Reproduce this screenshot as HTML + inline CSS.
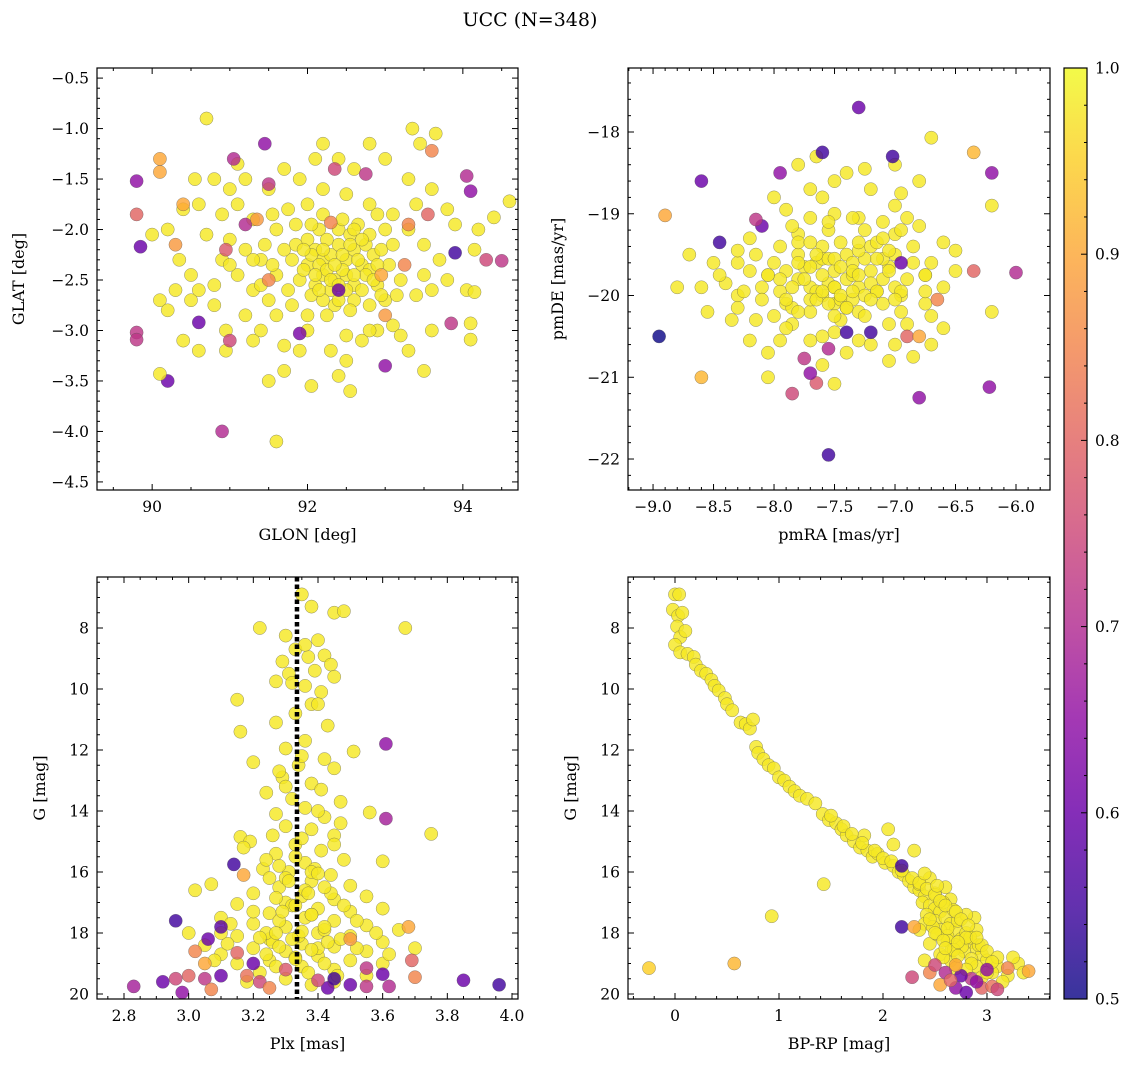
<!DOCTYPE html>
<html><head><meta charset="utf-8">
<style>
html,body{margin:0;padding:0;background:#fff;}
svg{display:block;font-family:"DejaVu Serif","Liberation Serif",serif;}
</style></head>
<body>
<svg id="fig" width="1136" height="1067" viewBox="0 0 1136 1067" xmlns="http://www.w3.org/2000/svg">
<defs>
<linearGradient id="plasma" x1="0" y1="1" x2="0" y2="0">
<stop offset="0" stop-color="#0d0887"/><stop offset="0.1" stop-color="#41049d"/><stop offset="0.2" stop-color="#6a00a8"/><stop offset="0.3" stop-color="#8f0da4"/><stop offset="0.4" stop-color="#b12a90"/><stop offset="0.5" stop-color="#cc4778"/><stop offset="0.6" stop-color="#e16462"/><stop offset="0.7" stop-color="#f2844b"/><stop offset="0.8" stop-color="#fca636"/><stop offset="0.9" stop-color="#fcce25"/><stop offset="1" stop-color="#f0f921"/>
</linearGradient>
</defs>
<text x="530" y="26" font-size="19" text-anchor="middle">UCC (N=348)</text>
</svg>
<script>
// shared membership probability for high-probability (yellow) members
const coreProb = [0.98];

// ---- Panel 1: GLON vs GLAT ----
const tlCoreGlon = [92.0,92.1,92.2,92.3,92.4,92.5,92.6,92.7,92.2,92.35,92.5,92.1,92.3,92.6,92.8,92.4,92.15,92.55,92.0,91.9,92.75,92.85,92.45,92.25,92.05,92.6,92.35,92.9,91.8,91.85,92.65,
90.0,90.2,90.4,90.35,90.5,90.3,90.5,90.1,90.2,90.6,90.8,90.9,91.0,90.9,91.0,91.2,91.1,91.3,91.2,91.4,91.1,91.3,91.5,91.2,91.4,90.95,90.95,91.5,91.7,92.05,92.3,92.5,92.55,92.4,92.7,92.9,93.1,93.3,93.0,93.2,93.4,93.6,93.7,93.5,93.3,93.1,93.4,93.6,93.3,93.0,93.35,93.45,93.65,92.8,92.6,92.4,92.2,92.1,91.9,91.7,91.5,91.75,92.0,92.2,92.5,92.8,93.0,92.9,91.6,91.6,91.8,91.6,91.9,92.8,93.2,93.9,94.2,93.8,94.15,90.7,90.6,90.55,90.8,91.1,90.4,90.6,91.7,93.6,93.5,91.3,92.0];
const tlCoreGlat = [-2.1,-2.2,-2.3,-2.25,-2.15,-2.3,-2.2,-2.35,-2.45,-2.5,-2.45,-2.55,-2.6,-2.55,-2.4,-2.0,-2.0,-2.05,-2.35,-2.5,-2.15,-2.25,-2.4,-2.1,-2.65,-2.7,-2.75,-2.55,-2.3,-2.15,-1.95,
-2.05,-2.0,-1.8,-2.3,-2.45,-2.6,-2.7,-2.7,-2.8,-2.6,-2.55,-2.3,-2.1,-1.85,-1.6,-1.5,-1.75,-1.9,-2.2,-2.3,-2.45,-2.6,-2.7,-2.85,-3.0,-3.0,-3.2,-3.5,-3.4,-3.55,-3.2,-3.3,-3.6,-3.45,-3.1,-3.0,-2.95,-3.2,-2.7,-2.5,-2.65,-2.6,-2.3,-2.15,-2.0,-1.85,-1.75,-1.6,-1.5,-1.3,-1.0,-1.15,-1.05,-1.15,-1.4,-1.3,-1.15,-1.3,-1.5,-1.4,-1.6,-1.8,-1.75,-1.6,-1.65,-1.75,-2.0,-1.85,-2.0,-2.45,-2.75,-2.85,-3.2,-3.0,-3.05,-1.95,-2.0,-2.5,-2.2,-2.05,-1.75,-1.5,-1.5,-1.35,-3.1,-3.2,-3.15,-3.0,-3.4,-2.3,-2.85];
const tlExtraGlon = [92.05,92.15,92.25,92.35,92.45,92.55,92.65,92.75,92.85,92.7,92.5,92.4,92.2,92.1,91.95,91.95,92.05,92.2,92.45,92.6,92.8,92.95,93.05,92.95,92.8,92.55,92.25,91.75,91.7,91.55,91.45,92.9,92.15,92.6,92.3,92.4,92.2,92.7,91.85,93.1,91.4,92.0,92.5,93.15,93.5,91.0,90.8,91.3,93.8,91.55];
const tlExtraGlat = [-2.25,-2.35,-2.4,-2.35,-2.25,-2.15,-2.3,-2.45,-2.5,-2.6,-2.6,-2.7,-2.7,-2.45,-2.4,-2.2,-1.95,-1.85,-1.9,-2.0,-2.05,-2.2,-2.35,-2.65,-2.75,-2.8,-2.85,-2.6,-2.2,-2.35,-2.15,-2.35,-2.6,-2.45,-2.5,-2.55,-2.2,-2.1,-1.95,-2.15,-2.55,-3.0,-3.05,-2.65,-2.45,-2.35,-2.75,-3.1,-1.8,-1.85];
const tlOutGlon = [92.3,90.4,90.3,91.5,93.25,93.0,92.95,92.4,92.75,91.5,91.2,90.95,93.3,93.55,92.35,91.35,
89.8,89.8,89.85,89.8,89.8,90.2,90.9,91.6,90.1,90.7,91.05,91.45,91.9,93.0,93.6,94.05,94.1,93.9,94.3,94.5,93.85,94.6,94.4,94.1,94.1,94.05,94.15,90.6,91.0,90.1,90.1];
const tlOutGlat = [-1.93,-1.75,-2.15,-2.5,-2.35,-2.85,-2.45,-2.6,-1.45,-1.55,-1.95,-2.2,-1.95,-1.85,-1.4,-1.9,
-1.52,-1.85,-2.17,-3.02,-3.09,-3.5,-4.0,-4.1,-3.43,-0.9,-1.3,-1.15,-3.03,-3.35,-1.22,-1.47,-1.62,-2.23,-2.3,-2.31,-2.93,-1.72,-1.88,-3.09,-2.93,-2.6,-2.62,-2.92,-3.1,-1.3,-1.43];
const tlOutProb = [0.85,0.9,0.88,0.85,0.85,0.88,0.9,0.6,0.72,0.72,0.7,0.78,0.85,0.8,0.75,0.88,
0.65,0.8,0.6,0.72,0.72,0.6,0.7,0.98,0.98,0.98,0.7,0.65,0.62,0.65,0.85,0.7,0.65,0.55,0.75,0.72,0.72,0.98,0.98,0.98,0.98,0.98,0.98,0.6,0.75,0.9,0.9];

// ---- Panel 2: pmRA vs pmDE ----
const trCorePmra = [-8.0,-7.9,-7.8,-7.7,-7.6,-7.5,-7.4,-7.3,-7.2,-7.1,-7.0,-6.9,-7.8,-7.6,-7.4,-7.2,-7.0,-7.7,-7.5,-7.3,-7.1,-6.95,-7.9,-8.1,-8.2,-7.65,-7.45,-7.25,-7.55,-7.8,-7.0,-6.85,-7.35,-7.55,-7.25,-7.85,-7.45,-7.05,-8.3,-8.3,-8.4,-7.7,-7.5,-7.3,-7.1,-7.9,-7.6,-7.4,-7.2,-7.0,-6.8,-6.7,-6.6,-6.5,-6.8,-7.0,-7.8,-7.5,-7.65,-8.0,-8.2,-8.5,-8.6,-8.35,-8.2,-8.05,-7.9,-7.6,-7.3,-7.0,-7.05,-6.85,-7.4,-7.6,-6.6,-6.7,-6.9,-7.25,-7.65,-7.95,
-7.75,-7.35,-7.15,-7.45,-7.6,-7.85,-7.05,-7.3,-7.5,-7.7,-7.15,-6.95,-8.05,-7.4,-7.2,-7.55,-7.8,-7.35,-7.1,-6.75];
const trCorePmde = [-19.6,-19.7,-19.8,-19.9,-20.0,-19.7,-19.8,-19.9,-19.7,-19.8,-19.9,-19.8,-19.5,-19.4,-19.5,-19.4,-19.5,-20.2,-20.1,-20.2,-20.1,-20.2,-20.1,-19.9,-19.7,-19.6,-19.35,-19.2,-19.2,-19.25,-19.25,-19.4,-19.6,-19.85,-20.0,-20.35,-20.3,-20.35,-20.0,-19.6,-19.85,-19.05,-19.0,-19.05,-19.1,-18.95,-18.8,-18.5,-18.7,-18.9,-19.15,-19.6,-19.35,-19.45,-18.6,-18.4,-18.4,-18.6,-18.3,-18.8,-19.3,-19.6,-19.9,-20.3,-20.55,-20.7,-20.4,-20.5,-20.55,-20.6,-20.8,-20.75,-20.7,-20.85,-20.4,-20.25,-19.05,-19.55,-19.95,-19.95,
-19.65,-19.75,-19.95,-20.05,-19.55,-20.15,-19.65,-19.45,-19.9,-20.05,-19.35,-20.0,-19.75,-20.15,-19.85,-19.55,-19.35,-20.05,-19.55,-19.75];
const trExtraPmra = [-7.5,-7.6,-7.7,-7.35,-7.45,-7.55,-7.65,-7.75,-7.85,-7.95,-8.05,-7.15,-7.05,-6.95,-7.25,-7.4,-7.8,-8.0,-8.1,-8.15,-7.95,-7.7,-7.5,-7.3,-7.15,-6.85,-6.75,-6.75,-6.9,-7.2,-7.5,-7.7,-8.15,-8.25,-7.35,-7.55,-7.85,-7.1,-6.95,-7.45,-7.3,-7.6,-7.9,-7.2,-7.0,-7.65,-7.35,-7.05,-7.8,-7.5,-6.6,-6.5,-8.45,-8.3,-6.95,-7.25,-7.7,-8.3,-6.7,-7.95];
const trExtraPmde = [-19.9,-19.75,-19.65,-19.7,-20.0,-20.1,-20.05,-19.8,-19.9,-19.8,-19.75,-19.95,-19.7,-19.95,-20.25,-20.15,-20.2,-20.25,-20.05,-19.5,-19.4,-19.35,-19.55,-19.35,-19.55,-19.6,-19.75,-20.1,-20.35,-20.6,-20.45,-20.55,-20.3,-19.95,-19.05,-19.1,-19.15,-19.3,-19.2,-19.65,-19.75,-19.95,-20.05,-20.05,-20.05,-19.5,-19.95,-19.45,-19.6,-20.25,-19.9,-19.7,-19.75,-20.15,-18.75,-18.45,-18.7,-19.45,-20.6,-20.55];
const trOutPmra = [-8.95,-7.3,-7.55,-8.6,-8.45,-6.2,-6.0,-6.22,-6.8,-7.02,-7.6,-7.95,-8.1,-8.15,-7.85,-7.65,-7.75,-7.7,-7.55,-8.9,-8.6,-6.35,-6.7,-6.2,-6.2,-8.8,-8.05,-7.5,-8.55,-8.7,-6.9,-6.8,-6.65,-6.35,-6.75,-7.2,-7.4,-6.95];
const trOutPmde = [-20.5,-17.7,-21.95,-18.6,-19.35,-18.5,-19.72,-21.12,-21.25,-18.3,-18.25,-18.5,-19.15,-19.07,-21.2,-21.07,-20.77,-20.95,-20.65,-19.02,-21.0,-18.25,-18.07,-18.9,-20.2,-19.9,-21.0,-21.08,-20.2,-19.5,-20.5,-20.5,-20.05,-19.7,-19.95,-20.45,-20.45,-19.6];
const trOutProb = [0.5,0.6,0.55,0.6,0.55,0.65,0.7,0.65,0.65,0.55,0.55,0.65,0.6,0.72,0.75,0.78,0.72,0.65,0.7,0.9,0.92,0.92,0.98,0.98,0.98,0.98,0.98,0.98,0.98,0.98,0.8,0.9,0.85,0.8,0.98,0.55,0.55,0.6];

// ---- Panel 3: Plx vs G ----
const blCorePlx = [3.35,3.38,3.45,3.48,3.22,3.67,3.3,3.4,3.33,3.37,3.42,3.29,3.44,3.39,3.31,3.45,3.27,3.36,3.41,3.15,3.38,3.33,3.27,3.43,3.16,3.36,3.3,3.51,3.42,3.2,3.34,3.45,3.29,3.38,3.24,3.41,3.32,3.47,3.36,3.27,3.42,3.56,3.75,3.3,3.38,3.16,3.45,3.19,3.33,3.41,3.27,3.17,3.6,3.36,3.48,3.23,3.31,3.44,3.07,3.38,3.28,3.5,3.02,3.2,3.35,3.45,3.55,3.3,3.15,3.4,3.25,3.5,3.6,3.36,3.1,3.45,3.2,3.3,3.55,3.65,3.0,3.4,3.15,3.5,3.25,3.35,3.6,3.05,3.45,3.2,3.3,3.55,3.7,3.1,3.4,3.25,3.5,3.35,3.6,3.15,3.45,3.22,3.3,3.55,3.38,
3.32,3.38,3.28,3.42,3.34,3.4,3.26,3.36,3.44,3.3,3.39,3.33,3.47,3.24];
const blCoreG = [6.9,7.3,7.5,7.45,8.0,8.0,8.25,8.4,8.7,8.95,8.9,9.1,9.2,9.4,9.5,9.6,9.75,9.9,10.1,10.35,10.5,10.8,11.1,11.2,11.4,11.7,11.95,12.05,12.3,12.4,12.5,12.6,12.9,13.1,13.4,13.3,13.6,13.7,13.9,14.1,14.2,14.05,14.75,14.5,14.6,14.85,14.8,15.0,15.1,15.3,15.4,15.2,15.65,15.7,15.6,15.9,16.0,16.1,16.4,16.3,16.5,16.45,16.6,16.7,16.8,16.9,16.8,17.0,17.05,17.2,17.35,17.3,17.2,17.5,17.5,17.6,17.7,17.8,17.75,17.9,18.0,18.0,18.1,18.1,18.2,18.35,18.3,18.4,18.45,18.5,18.6,18.6,18.5,18.7,18.75,18.9,18.9,19.1,19.0,19.0,19.2,19.3,19.5,19.4,19.7,
17.1,17.4,17.6,17.9,18.1,18.5,18.3,16.6,16.7,16.2,15.9,18.8,18.2,18.0];
const blExtraPlx = [3.33,3.28,3.38,3.31,3.25,3.42,3.37,3.27,3.33,3.29,3.38,3.42,3.35,3.27,3.22,3.32,3.43,3.38,3.28,3.24,3.33,3.42,3.27,3.37,3.45,3.18,3.12,3.1,3.48,3.52,3.58,3.62,3.35,3.3,3.4,3.35,3.24,3.45,3.52,3.46,3.2,3.13,3.08,3.4,3.47,3.26,3.4,3.28,3.36,3.32];
const blExtraG = [15.5,15.8,16.0,16.3,16.2,16.5,16.7,16.85,17.1,17.3,17.4,17.8,17.95,18.0,18.15,18.2,18.3,18.55,18.45,18.7,18.85,19.0,19.1,19.3,19.6,19.6,18.35,18.0,17.1,17.6,18.0,18.7,12.2,13.2,14.0,14.9,15.6,15.1,18.5,19.4,17.3,17.7,18.9,16.05,14.4,14.8,10.5,12.7,8.55,9.8];
const blOutPlx = [3.61,3.61,3.14,2.96,3.1,3.68,3.17,2.83,2.92,2.96,2.98,3.0,3.05,3.07,3.1,3.18,3.22,3.2,3.25,3.3,3.43,3.45,3.5,3.55,3.6,3.62,3.7,3.69,3.85,3.96,3.02,3.06,3.5,3.55,3.4,3.15,3.05];
const blOutG = [11.8,14.25,15.75,17.6,17.8,17.8,16.1,19.75,19.6,19.5,19.95,19.4,19.5,19.85,19.4,19.4,19.6,19.0,19.8,19.2,19.8,19.5,19.7,19.15,19.35,19.75,19.45,18.9,19.55,19.7,18.6,18.2,18.2,19.75,19.55,18.65,19.0];
const blOutProb = [0.65,0.68,0.55,0.55,0.58,0.9,0.9,0.68,0.6,0.75,0.65,0.8,0.72,0.85,0.6,0.82,0.75,0.6,0.85,0.78,0.6,0.55,0.6,0.72,0.6,0.7,0.85,0.8,0.6,0.55,0.85,0.6,0.88,0.72,0.75,0.8,0.9];
const plxRef = [3.335];

// ---- Panel 4: BP-RP vs G ----
const brCoreColor = [0.0,0.04,-0.02,0.03,0.07,0.02,0.05,0.0,0.05,0.12,0.18,0.2,0.25,0.3,0.35,0.38,0.42,0.48,0.5,0.63,0.68,0.72,0.75,0.78,0.8,0.85,0.9,0.95,1.0,1.05,1.1,1.15,1.2,1.27,1.35,1.42,1.48,1.55,1.6,1.65,1.72,1.78,1.85,1.9,1.95,2.02,2.1,2.15,2.2,2.25,2.3,2.35,2.4,2.38,2.45,2.5,2.42,2.55,2.5,2.6,2.65,2.55,2.7,2.62,2.75,2.8,2.85,2.7,2.9,2.78,2.95,2.85,3.0,3.1,2.9,3.05,3.2,3.15,3.3,3.25,2.95,2.88,2.9,2.6,2.65,2.45,2.3,2.05,2.1,1.82,2.4,2.45,2.55,2.4,2.65,
2.35,2.5,2.58,2.68,2.72,2.8,2.48,2.62,2.76,2.52,2.66,2.84,2.58,2.92,2.7];
const brCoreG = [6.9,6.9,7.4,7.6,7.5,7.95,8.3,8.55,8.8,8.85,8.95,9.2,9.4,9.5,9.7,9.9,10.05,10.3,10.5,11.1,11.15,11.3,11.0,11.9,12.1,12.3,12.5,12.6,12.9,13.0,13.2,13.35,13.5,13.6,13.75,14.1,14.3,14.4,14.6,14.8,15.0,15.2,15.3,15.5,15.4,15.7,15.8,16.0,16.1,16.3,16.5,16.6,16.8,17.0,17.1,17.2,17.4,17.3,17.6,17.5,17.7,17.9,17.9,18.1,18.2,18.0,18.3,18.4,18.5,18.6,18.7,18.85,18.9,19.1,19.1,19.3,19.4,19.6,19.0,18.8,19.45,17.5,17.9,16.5,16.9,16.2,15.3,14.6,15.1,14.8,17.7,18.35,18.7,18.9,18.9,
16.4,16.7,17.0,17.25,17.6,17.4,17.8,18.25,18.45,18.05,18.55,18.15,18.8,18.4,19.15];
const brExtraColor = [1.5,1.62,1.7,1.8,1.92,2.0,2.08,2.18,2.28,2.35,2.42,2.5,2.55,2.6,2.7,2.75,2.82,2.8,2.95,3.0,3.1,2.5,2.58,2.68,2.72,2.85,3.0,2.8,2.6,2.35,2.45,2.62,2.72,2.9,3.05,3.35,2.52,2.4,0.55,0.1];
const brExtraG = [14.15,14.5,14.75,15.05,15.3,15.55,15.65,15.95,16.2,16.35,16.55,16.75,16.95,17.1,17.3,17.55,17.75,18.15,18.4,18.6,18.8,18.0,18.25,18.55,18.75,19.0,19.3,19.2,18.5,17.9,17.55,17.85,18.3,18.15,18.95,19.3,16.45,16.05,10.7,8.1];
const brOutColor = [-0.25,0.57,0.93,1.43,2.18,2.18,2.28,2.3,3.4,2.55,2.6,2.7,2.8,2.85,2.95,3.05,2.75,2.65,2.45,2.5,2.9,3.1,3.2,2.7,3.0];
const brOutG = [19.15,19.0,17.45,16.4,15.8,17.8,19.45,17.8,19.25,19.7,19.3,19.8,19.95,19.5,19.8,19.75,19.4,19.55,19.3,19.05,19.6,19.85,19.15,19.05,19.2];
const brOutProb = [0.95,0.92,0.98,0.98,0.55,0.55,0.75,0.9,0.9,0.9,0.7,0.65,0.6,0.72,0.8,0.82,0.6,0.8,0.85,0.75,0.65,0.75,0.85,0.9,0.65];

const cbarTicks = [0.5,0.6,0.7,0.8,0.9,1.0];

const NS = "http://www.w3.org/2000/svg";
const svg = document.getElementById('fig');
const stops = [[13,8,135],[65,4,157],[106,0,168],[143,13,164],[177,42,144],[204,71,120],[225,100,98],[242,132,75],[252,166,54],[252,206,37],[240,249,33]];
function plasma(p){
  if (typeof p !== 'number' || isNaN(p)) p = 1;
  let t = Math.max(0, Math.min(1, (p-0.5)/0.5)) * 10;
  const i = Math.min(9, Math.floor(t)); const f = t - i;
  const a = stops[i], b = stops[i+1];
  return 'rgb(' + [0,1,2].map(k => Math.round(a[k] + (b[k]-a[k])*f)).join(',') + ')';
}
function mk(tag, attrs, parent){
  const e = document.createElementNS(NS, tag);
  for (const k in attrs) e.setAttribute(k, attrs[k]);
  (parent || svg).appendChild(e);
  return e;
}
function fmt(v, dec){ const s = v.toFixed(dec); return s.replace('-', '\u2212'); }

function panel(o){
  const g = mk('g', {});
  
  
  const X = v => o.L + (v - o.x0) / (o.x1 - o.x0) * (o.R - o.L);
  const Y = v => o.T + (v - o.y0) / (o.y1 - o.y0) * (o.B - o.T);
  const cp = 'clip-' + o.name;
  const cl = mk('clipPath', {id: cp}, g);
  mk('rect', {x:o.L, y:o.T, width:o.R-o.L, height:o.B-o.T}, cl);
  const pts = mk('g', {'clip-path':'url(#'+cp+')'}, g);
  
  
  const groups = [[o.cx, o.cy, null], [o.ox, o.oy, o.op]];
  groups.forEach(gr => {
    const n = Math.min(gr[0].length, gr[1].length);
    for (let i = 0; i < n; i++){
      const p = gr[2] ? gr[2][i] : coreProb[0];
      const c = mk('circle', {cx:X(gr[0][i]).toFixed(1), cy:Y(gr[1][i]).toFixed(1), r:6.6, fill:plasma(p), 'fill-opacity':0.82, stroke:'#555', 'stroke-width':0.45, 'stroke-opacity':0.7}, pts);
      
      
    }
  });
  if (o.vline){
    const l = mk('line', {x1:X(o.vline[0]), x2:X(o.vline[0]), y1:o.T, y2:o.B, stroke:'#000', 'stroke-width':4.5, 'stroke-dasharray':'4.5,3'}, g);
    
    
  }
  const frame = mk('rect', {x:o.L, y:o.T, width:o.R-o.L, height:o.B-o.T, fill:'none', stroke:'#000', 'stroke-width':1.2}, g);
  
  
  const tk = mk('g', {stroke:'#000', 'stroke-width':1}, g);
  const xl = Math.min(o.x0,o.x1), xh = Math.max(o.x0,o.x1);
  const yl = Math.min(o.y0,o.y1), yh = Math.max(o.y0,o.y1);
  const xs0 = Math.ceil(xl/o.xmin - 1e-6), xs1 = Math.floor(xh/o.xmin + 1e-6);
  for (let k = xs0; k <= xs1; k++){
    const v = k * o.xmin;
    const px = X(v);
    const major = Math.abs(v/o.xmaj - Math.round(v/o.xmaj)) < 1e-6;
    const len = major ? 6 : 3;
    mk('line', {x1:px, x2:px, y1:o.B, y2:o.B-len}, tk);
    mk('line', {x1:px, x2:px, y1:o.T, y2:o.T+len}, tk);
    if (major){
      const t = mk('text', {x:px, y:o.B+22, 'font-size':15.5, 'text-anchor':'middle'}, g);
      t.textContent = fmt(v, o.xdec);
      
      
    }
  }
  const ys0 = Math.ceil(yl/o.ymin - 1e-6), ys1 = Math.floor(yh/o.ymin + 1e-6);
  for (let k = ys0; k <= ys1; k++){
    const v = k * o.ymin;
    const py = Y(v);
    const major = Math.abs(v/o.ymaj - Math.round(v/o.ymaj)) < 1e-6;
    const len = major ? 6 : 3;
    mk('line', {x1:o.L, x2:o.L+len, y1:py, y2:py}, tk);
    mk('line', {x1:o.R, x2:o.R-len, y1:py, y2:py}, tk);
    if (major){
      const t = mk('text', {x:o.L-8, y:py+5.5, 'font-size':15.5, 'text-anchor':'end'}, g);
      t.textContent = fmt(v, o.ydec);
      
      
    }
  }
  const xt = mk('text', {x:(o.L+o.R)/2, y:o.B+50, 'font-size':16, 'text-anchor':'middle'}, g);
  xt.textContent = o.xlabel;
  
  
  const yt = mk('text', {x:0, y:0, 'font-size':16, 'text-anchor':'middle', transform:'translate('+o.ylx+','+((o.T+o.B)/2)+') rotate(-90)'}, g);
  yt.textContent = o.ylabel;
  
  
}

panel({name:'glon-glat-panel', L:97, R:518, T:68, B:490, x0:89.29, x1:94.71, y0:-0.40, y1:-4.58,
  xmaj:2, xmin:0.5, ymaj:0.5, ymin:0.1, xdec:0, ydec:1,
  cx:tlCoreGlon.concat(tlExtraGlon), cy:tlCoreGlat.concat(tlExtraGlat), ox:tlOutGlon, oy:tlOutGlat, op:tlOutProb,
  xlabel:'GLON [deg]', ylabel:'GLAT [deg]', ylx:24});
panel({name:'pm-panel', L:628, R:1050, T:68, B:490, x0:-9.207, x1:-5.719, y0:-17.217, y1:-22.379,
  xmaj:0.5, xmin:0.1, ymaj:1, ymin:0.2, xdec:1, ydec:0,
  cx:trCorePmra.concat(trExtraPmra), cy:trCorePmde.concat(trExtraPmde), ox:trOutPmra, oy:trOutPmde, op:trOutProb,
  xlabel:'pmRA [mas/yr]', ylabel:'pmDE [mas/yr]', ylx:563});
panel({name:'plx-g-panel', L:97, R:518, T:577, B:999, x0:2.7165, x1:4.0186, y0:6.328, y1:20.164,
  xmaj:0.2, xmin:0.05, ymaj:2, ymin:0.5, xdec:1, ydec:0,
  cx:blCorePlx.concat(blExtraPlx), cy:blCoreG.concat(blExtraG), ox:blOutPlx, oy:blOutG, op:blOutProb, vline:plxRef,
  xlabel:'Plx [mas]', ylabel:'G [mag]', ylx:45});
panel({name:'cmd-panel', L:628, R:1050, T:577, B:999, x0:-0.452, x1:3.606, y0:6.328, y1:20.164,
  xmaj:1, xmin:0.2, ymaj:2, ymin:0.5, xdec:0, ydec:0,
  cx:brCoreColor.concat(brExtraColor), cy:brCoreG.concat(brExtraG), ox:brOutColor, oy:brOutG, op:brOutProb,
  xlabel:'BP-RP [mag]', ylabel:'G [mag]', ylx:576});

// colorbar
const cb = mk('g', {});


const cbL = 1064, cbR = 1087, cbT = 68, cbB = 999;
mk('rect', {x:cbL, y:cbT, width:cbR-cbL, height:cbB-cbT, fill:'url(#plasma)', 'fill-opacity':0.82}, cb);
mk('rect', {x:cbL, y:cbT, width:cbR-cbL, height:cbB-cbT, fill:'none', stroke:'#000', 'stroke-width':1.2}, cb);
const CY = v => cbB - (v - 0.5) / 0.5 * (cbB - cbT);
for (let k = 25; k <= 50; k++){
  const v = k * 0.02;
  const major = k % 5 === 0;
  mk('line', {x1:cbR, x2:cbR-(major?6:3), y1:CY(v), y2:CY(v), stroke:'#000', 'stroke-width':1}, cb);
}
cbarTicks.forEach(v => {
  const t = mk('text', {x:cbR+8, y:CY(v)+5.5, 'font-size':15.5}, cb);
  t.textContent = v.toFixed(1);
  
  
});
</script>
</body></html>
